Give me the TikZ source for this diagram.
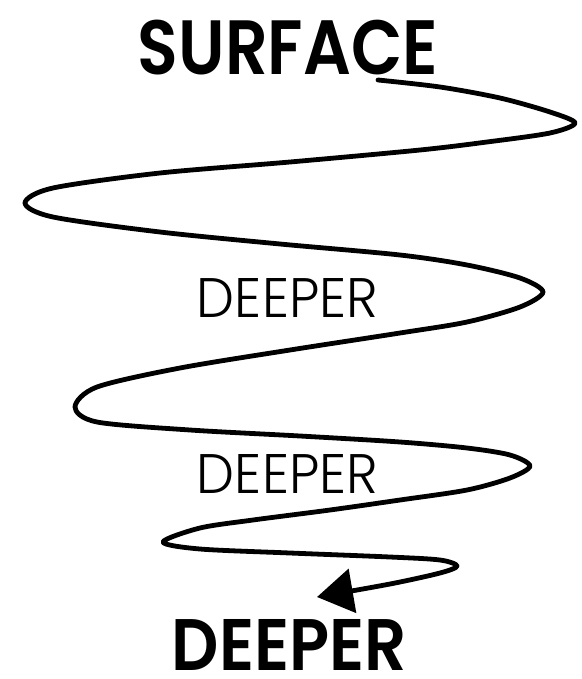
\documentclass[tikz,border=0pt]{standalone}
\usepackage{fontspec}
\usepackage{graphicx}
\setmainfont{Poppins}
\newfontfamily\thinfont{Poppins Light}
\newfontfamily\semifont{Poppins SemiBold}
\usetikzlibrary{arrows.meta}
\newcommand{\fitword}[3]{\resizebox*{#1}{#2}{#3}}

\begin{document}
\begin{tikzpicture}[
    x=1pt, y=-1pt,
    word/.style={inner sep=0pt, anchor=center},
    spiral/.style={line width=4.8pt, line cap=round, line join=round},
    bigtip/.style={-{Triangle[length=36pt,width=44pt]}}
  ]
  \useasboundingbox (0,0) rectangle (581,679);

  % labels
  \node[word] (surface) at (288,47.5) {\fitword{300pt}{55pt}{\semifont SURFACE}};
  \node[word] (deeperA) at (287.5,297.5) {\fitword{181pt}{39pt}{\thinfont DEEPER}};
  \node[word] (deeperB) at (287.5,474) {\fitword{181pt}{39pt}{\thinfont DEEPER}};
  \node[word] (deepest) at (289.5,645) {\fitword{235pt}{51pt}{\semifont DEEPER}};

  % the spiral
  \draw[spiral, bigtip] plot[smooth, tension=0.5] coordinates {
    (378,80) (440,87) (500,98) (550,112) (575,123) (550,133) (487,142) (420,150)
    (290,162) (160,173) (53,188) (25,203) (53,217) (160,232) (280,244) (400,255)
    (467,265) (520,278) (543,292) (520,307) (467,322) (400,333) (290,350) (180,368)
    (97,387) (75,407) (97,422) (190,430) (300,436) (400,442) (467,448) (510,455)
    (530,466) (510,478) (467,490) (400,500) (330,510) (253,520) (200,528) (163,542)
    (200,549) (290,553) (390,557) (440,560) (457,566) (440,573) (390,584) (317,597)};
\end{tikzpicture}
\end{document}
